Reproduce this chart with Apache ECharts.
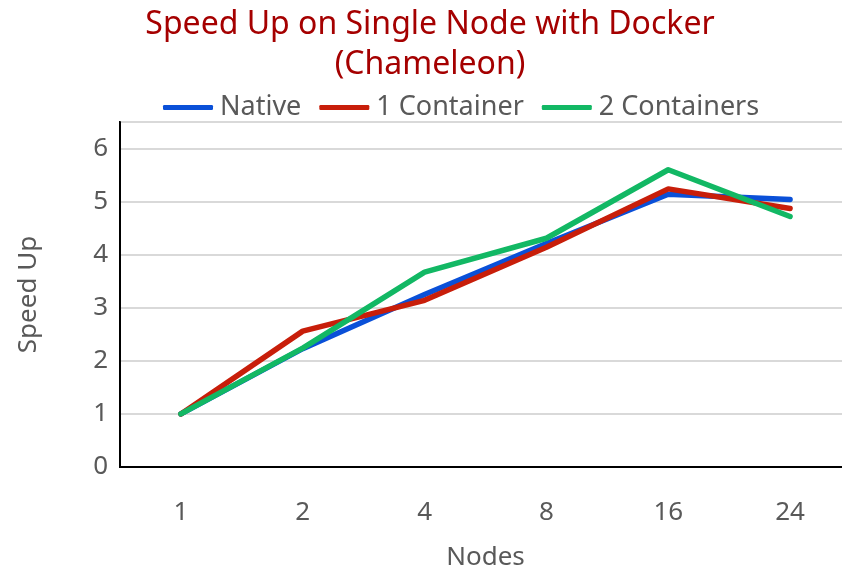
<!DOCTYPE html>
<html><head><meta charset="utf-8">
<script src="https://cdn.jsdelivr.net/npm/echarts@6/dist/echarts.min.js"></script>
<style>html,body{margin:0;padding:0;background:#fff}#c{width:842px;height:571px}</style>
</head><body><div id="c"></div>
<script>
const categories = ['1','2','4','8','16','24'];
const native = [1.0, 2.23, 3.25, 4.21, 5.14, 5.04];
const oneContainer = [1.0, 2.56, 3.14, 4.14, 5.24, 4.87];
const twoContainers = [1.0, 2.24, 3.67, 4.31, 5.6, 4.72];
const seriesNames = ['Native','1 Container','2 Containers'];
const yTicks = [0,1,2,3,4,5,6];

const font = 'Noto Sans';
const chart = echarts.init(document.getElementById('c'));
const mk = (name, data, color) => ({
  name, type:'line', data, symbol:'none', smooth:false,
  lineStyle:{width:5.5, color, cap:'round', join:'round'}, itemStyle:{color}
});
chart.setOption({
  animation:false,
  title:{text:'Speed Up on Single Node with Docker\n(Chameleon)', left:425, textAlign:'center', top:0,
    textStyle:{fontFamily:font, fontSize:32, fontWeight:'normal', color:'#a50000', lineHeight:40}},
  legend:{data:seriesNames, left:158, top:89, itemWidth:50, itemHeight:5, itemGap:18,
    textStyle:{fontFamily:font, fontSize:27, color:'#595959', padding:[0,0,0,2]}, icon:'roundRect'},
  grid:{left:120, width:731, top:122, height:345, show:true, borderColor:'#000', borderWidth:2,
    containLabel:false, outerBoundsMode:'none'},
  xAxis:{type:'category', data:categories, boundaryGap:true,
    name:'Nodes', nameLocation:'middle', nameGap:78,
    nameTextStyle:{fontFamily:font, fontSize:26, color:'#595959'},
    axisLine:{show:true, lineStyle:{color:'#000', width:2}}, axisTick:{show:false},
    axisLabel:{fontFamily:font, fontSize:26, color:'#595959', margin:33}},
  yAxis:{type:'value', min:0, max:6.5, interval:1,
    name:'Speed Up', nameLocation:'middle', nameGap:78,
    nameTextStyle:{fontFamily:font, fontSize:26, color:'#595959'},
    axisLine:{show:true, lineStyle:{color:'#000', width:2}}, axisTick:{show:false},
    axisLabel:{fontFamily:font, fontSize:26, color:'#595959', margin:12,
      formatter:v => yTicks.includes(v) ? String(v) : ''},
    splitLine:{lineStyle:{color:'#d9d9d9', width:2}}},
  series:[mk(seriesNames[0], native, '#0a50d8'), mk(seriesNames[1], oneContainer, '#c81e0a'), mk(seriesNames[2], twoContainers, '#12b864')]
});
</script></body></html>
